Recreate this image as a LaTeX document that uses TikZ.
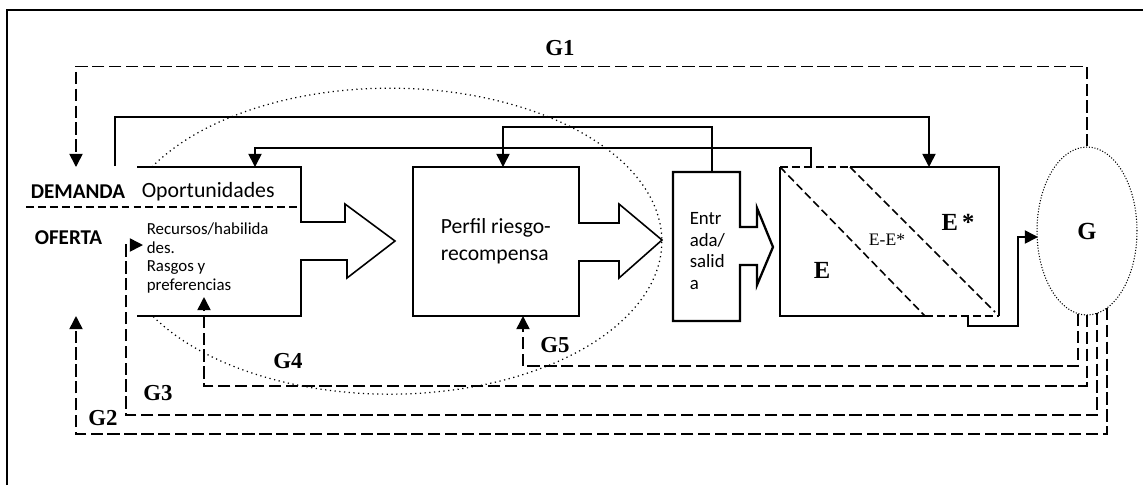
\documentclass[tikz,border=0pt]{standalone}
\usepackage{fontspec}
\setmainfont{Carlito}
\newfontfamily\serf{Liberation Serif}
\usetikzlibrary{arrows.meta,shapes.geometric}

\begin{document}
\begin{tikzpicture}[x=0.02cm,y=-0.02cm,line width=0.9pt,
    >={Triangle[length=7.5pt,width=7.5pt]}]
    \useasboundingbox (0,0) rectangle (1143,485);
    \tikzstyle{every node}=[inner sep=0pt]
    \tikzstyle{glabel}=[font=\serf\bfseries\fontsize{13}{13}\selectfont]
    \tikzstyle{loop}=[dash pattern=on 7pt off 2.6pt]
    \tikzstyle{split}=[dash pattern=on 4.5pt off 2.3pt]
    % frame
    \draw[line width=0.7pt] (7,485) -- (7,10) -- (1143,10);
    % texts
    \node[anchor=west,font=\bfseries\fontsize{12}{12}\selectfont] (demanda) at (30,192) {DEMANDA};
    \node[anchor=west,font=\fontsize{12.4}{12}\selectfont] (oport) at (141,192) {Oportunidades};
    \node[anchor=west,font=\bfseries\fontsize{12}{12}\selectfont] (oferta) at (34,238) {OFERTA};
    \node[anchor=north west,align=left,font=\fontsize{9.6}{10.6}\selectfont] (recursos) at (146,222) {Recursos/habilida\\des.\\Rasgos y\\preferencias};
    \node[anchor=north west,align=left,font=\fontsize{12.3}{15.3}\selectfont] (perfil) at (440,218) {Perfil riesgo-\\recompensa};
    \node[anchor=north west,align=left,font=\fontsize{10.7}{12.2}\selectfont] (entrada) at (689,212) {Entr\\ada/\\salid\\a};
    \node[font=\serf\bfseries\fontsize{14}{14}\selectfont] (e) at (822,270) {E};
    \node[font=\serf\fontsize{10}{10}\selectfont] (ee) at (887,240) {E-E*};
    \node[font=\serf\bfseries\fontsize{14}{14}\selectfont] (estar) at (958,222) {E\,*};
    \node[draw,densely dotted,line width=0.6pt,ellipse,minimum width=2cm,minimum height=3.36cm,
        font=\serf\bfseries\fontsize{14}{14}\selectfont] (g) at (1087,231) {G};
    \node[glabel] (gone) at (560,48) {G1};
    \node[glabel] (gtwo) at (103,418) {G2};
    \node[glabel] (gthree) at (158,393) {G3};
    \node[glabel] (gfour) at (288,361) {G4};
    \node[glabel] (gfive) at (555,345) {G5};
    % boxes
    \draw (137,167) -- (301,167) -- (301,222) -- (345,222) -- (345,204) -- (395,241)
        -- (347,278) -- (347,260) -- (301,260) -- (301,316) -- (137,316);
    \draw[split] (26,207) -- (301,207);
    \draw (413,167) -- (579,167) -- (579,223) -- (619,223) -- (619,204) -- (662,240)
        -- (619,278) -- (619,261) -- (579,261) -- (579,316) -- (413,316) -- cycle;
    \draw[line width=1.3pt] (673,172) -- (740,172) -- (740,227) -- (757,227) -- (757,208) -- (773,247)
        -- (757,285) -- (757,265) -- (740,265) -- (740,321) -- (673,321) -- cycle;
    \draw (850,167) -- (999,167) -- (999,316);
    \draw (780,167) -- (780,316) -- (925,316);
    \draw[split] (780,167) -- (850,167);
    \draw[split] (925,316) -- (999,316);
    \draw[split] (780,167) -- (925,316);
    \draw[split] (850,167) -- (995,312);
    % dotted region
    \draw[dotted,line width=0.7pt] (152,167) arc[start angle=151,end angle=-151,x radius=5.44cm,y radius=3.06cm];
    % points
    \coordinate (demIn) at (76,167);
    \coordinate (demOut) at (115,166);
    \coordinate (oppTop) at (255,167);
    \coordinate (perTop) at (503,167);
    \coordinate (perBot) at (523,316);
    \coordinate (entTop) at (712,172);
    \coordinate (eTopA) at (811,167);
    \coordinate (eTopB) at (929,167);
    \coordinate (eBot) at (968,316);
    \coordinate (gIn) at (1038,237);
    \coordinate (recIn) at (143,245);
    \coordinate (recBot) at (204,297);
    \coordinate (ofIn) at (76,316);
    \coordinate (gA) at (1078,314);
    \coordinate (gB) at (1087,315);
    \coordinate (gC) at (1097,313);
    \coordinate (gD) at (1107,308);
    % links
    \draw[loop,->] (g.north) -- ++(0,-80) -| (demIn);
    \draw[->] (demOut) -- ++(0,-49) -| (eTopB);
    \draw[->] (entTop) -- ++(0,-45) -| (perTop);
    \draw[->] (eTopA) -- ++(0,-19) -| (oppTop);
    \draw[->] (eBot) -- ++(0,10) -- ++(50,0) |- (gIn);
    \draw[loop,->] (gA) -- ++(0,52) -| (perBot);
    \draw[loop,->] (gB) -- ++(0,71) -| (recBot);
    \draw[loop,->] (gC) -- ++(0,102) -- ++(-971,0) |- (recIn);
    \draw[loop,->] (gD) -- ++(0,126) -| (ofIn);
\end{tikzpicture}
\end{document}
